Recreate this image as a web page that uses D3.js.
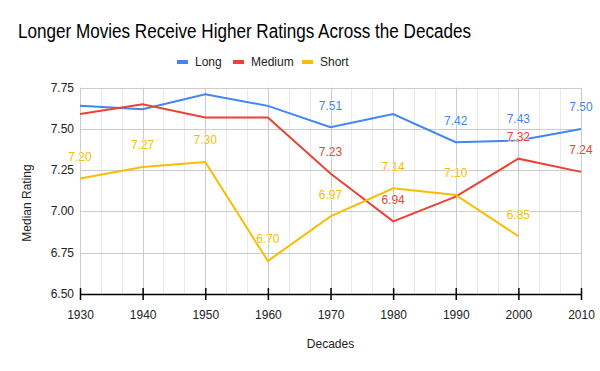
<!DOCTYPE html>
<html>
<head>
<meta charset="utf-8">
<script src="https://cdn.jsdelivr.net/npm/d3@7"></script>
<style>
  body { margin: 0; background: #fff; }
  svg text { font-family: "Liberation Sans", Arial, sans-serif; }
</style>
</head>
<body>
<script>
// data
const decades = [1930, 1940, 1950, 1960, 1970, 1980, 1990, 2000, 2010]
const longVals   = [7.64, 7.62, 7.71, 7.64, 7.51, 7.59, 7.42, 7.43, 7.50]
const mediumVals = [7.59, 7.65, 7.57, 7.57, 7.23, 6.94, 7.09, 7.32, 7.24]
const shortVals  = [7.20, 7.27, 7.30, 6.70, 6.97, 7.14, 7.10, 6.85, null]
// which points carry a value label
const longLabels   = [false, false, false, false, true, false, true, true, true]
const mediumLabels = [false, false, false, false, true, true, false, true, true]
const shortLabels  = [true, true, true, true, true, true, true, true, false]
const yTicks = [6.50, 6.75, 7.00, 7.25, 7.50, 7.75]

const series = [
  { name: 'Long', values: longVals, labels: longLabels, color: '#4285f4' },
  { name: 'Medium', values: mediumVals, labels: mediumLabels, color: '#ea4335' },
  { name: 'Short', values: shortVals, labels: shortLabels, color: '#fbbc04' }
]

const w = 600
const h = 371
const plotL = 80, plotR = 581, plotT = 87.7, plotB = 294

const svg = d3.select('body').append('svg')
  .attr('width', w)
  .attr('height', h)

const xScale = d3.scaleLinear().domain([1930, 2010]).range([plotL, plotR])
const yScale = d3.scaleLinear().domain([6.5, 7.75]).range([plotB, plotT])

// minor vertical grid (thirds of a decade)
const minor = []
for (let i = 0; i < decades.length - 1; i++) {
  minor.push(decades[i] + 10 / 3, decades[i] + 20 / 3)
}
svg.append('g').selectAll('line')
  .data(minor).enter().append('line')
  .attr('x1', d => Math.round(xScale(d)) + 0.5).attr('x2', d => Math.round(xScale(d)) + 0.5)
  .attr('y1', plotT).attr('y2', plotB)
  .attr('stroke', '#ebebeb').attr('stroke-width', 1)

// major grid
svg.append('g').selectAll('line')
  .data(decades).enter().append('line')
  .attr('x1', d => Math.round(xScale(d)) + 0.5).attr('x2', d => Math.round(xScale(d)) + 0.5)
  .attr('y1', plotT).attr('y2', plotB)
  .attr('stroke', '#cccccc')

svg.append('g').selectAll('line')
  .data(yTicks.slice(1)).enter().append('line')
  .attr('x1', plotL).attr('x2', plotR)
  .attr('y1', d => Math.round(yScale(d)) + 0.5).attr('y2', d => Math.round(yScale(d)) + 0.5)
  .attr('stroke', '#cccccc')

// y axis labels
svg.append('g').selectAll('text')
  .data(yTicks).enter().append('text')
  .attr('x', 74)
  .attr('y', d => yScale(d) + 4)
  .attr('text-anchor', 'end')
  .attr('font-size', 12)
  .attr('fill', '#222')
  .text(d => d.toFixed(2))

// x axis
const xAxis = d3.axisBottom(xScale)
  .tickValues(decades)
  .tickFormat(d3.format('d'))
  .tickSizeInner(6)
  .tickSizeOuter(0)
  .tickPadding(10)

const gx = svg.append('g')
  .attr('transform', `translate(0, ${plotB})`)
  .call(xAxis)
gx.select('.domain').attr('stroke', '#000').attr('stroke-width', 1.5)
gx.selectAll('.tick line').attr('y1', -6).attr('stroke', '#000').attr('stroke-width', 1.5)
gx.selectAll('.tick text')
  .attr('font-size', 12)
  .attr('fill', '#222')
  .attr('font-family', '"Liberation Sans", Arial, sans-serif')

// lines
const line = d3.line()
  .defined(d => d.v != null)
  .x(d => xScale(d.x))
  .y(d => yScale(d.v))

series.forEach(s => {
  svg.append('path')
    .datum(decades.map((x, i) => ({ x: x, v: s.values[i] })))
    .attr('fill', 'none')
    .attr('stroke', s.color)
    .attr('stroke-width', 2)
    .attr('d', line)
})

// value labels
series.forEach(s => {
  const pts = decades.map((x, i) => ({ x: x, v: s.values[i], show: s.labels[i] }))
    .filter(d => d.show && d.v != null)
  svg.append('g').selectAll('text')
    .data(pts).enter().append('text')
    .attr('x', d => xScale(d.x))
    .attr('y', d => yScale(d.v) - 17.5)
    .attr('text-anchor', 'middle')
    .attr('font-size', 12)
    .attr('fill', s.color)
    .attr('stroke', '#fff')
    .attr('stroke-width', 1.5)
    .attr('stroke-opacity', 0.8)
    .attr('paint-order', 'stroke')
    .text(d => d.v.toFixed(2))
})

// title
svg.append('text')
  .attr('x', 18)
  .attr('y', 38)
  .attr('font-size', 20)
  .attr('fill', '#000')
  .attr('textLength', 453)
  .attr('lengthAdjust', 'spacingAndGlyphs')
  .text('Longer Movies Receive Higher Ratings Across the Decades')

// legend
const legendX = [177, 233, 302]
series.forEach((s, i) => {
  svg.append('rect')
    .attr('x', legendX[i]).attr('y', 60)
    .attr('width', 11).attr('height', 4)
    .attr('fill', s.color)
  svg.append('text')
    .attr('x', legendX[i] + 18).attr('y', 66)
    .attr('font-size', 12)
    .attr('fill', '#222')
    .text(s.name)
})

// axis titles
svg.append('text')
  .attr('x', (plotL + plotR) / 2)
  .attr('y', 348)
  .attr('text-anchor', 'middle')
  .attr('font-size', 12)
  .attr('fill', '#222')
  .text('Decades')

svg.append('text')
  .attr('transform', 'translate(31, 203) rotate(-90)')
  .attr('text-anchor', 'middle')
  .attr('font-size', 12)
  .attr('fill', '#222')
  .text('Median Rating')
</script>
</body>
</html>
